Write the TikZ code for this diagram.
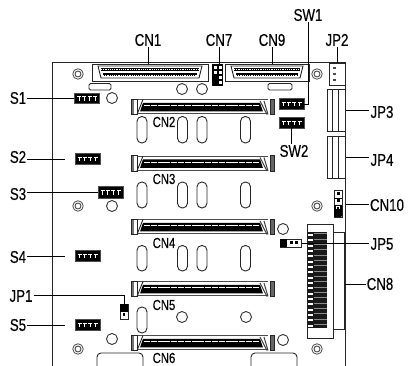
\documentclass[tikz,border=0pt]{standalone}
\usepackage{fontspec}
\setmainfont{Liberation Sans}[FakeStretch=0.78,FakeBold=0.35]
\tikzset{
  x=1pt,y=-1pt,
  ln/.style={line width=0.9pt,black!85},
  lbl/.style={font=\fontsize{17}{17}\selectfont,inner sep=1pt,text=black},
  ilbl/.style={font=\fontsize{14.5}{14.5}\selectfont,inner sep=0pt,text=black},
  wire/.style={line width=0.8pt,black},
  part/.style={draw=black!85,line width=0.9pt,fill=white},
  swbox/.style={draw=black!70,line width=.5pt,fill=black,minimum width=25pt,minimum height=10.5pt,inner sep=0pt},
}
% switch body with white T marks
\newcommand{\swmarks}[1]{%
  \foreach \i in {-8,-2.7,2.7,8}{
    \draw[white,line width=.7pt] ([shift={(\i-2,-1.8)}]#1.center) -- ([shift={(\i+2,-1.8)}]#1.center);
    \draw[white,line width=.7pt] ([shift={(\i,-1.8)}]#1.center) -- ([shift={(\i,2.5)}]#1.center);
  }}
% long connector: top y = #1, named #2
\newcommand{\longconn}[2]{%
  \node[inner sep=0,minimum width=143pt,minimum height=15.5pt,anchor=north west] (#2) at (131,#1) {};
  \begin{scope}[shift={(0,#1)}]
    \draw[black!70,line width=1.4pt] (137,0.8) -- (268,0.8);
    \draw[black!70,line width=1.4pt] (137,14.8) -- (268,14.8);
    \fill[black!55] (131,0) rectangle (134,15.5);
    \draw[ln] (131,0) rectangle (137,15.5);
    \fill[black!60] (270,0) rectangle (274,15.5);
    \draw[ln] (270,0) rectangle (274,15.5);
    \draw[ln] (137,15.5) -- (143,0.5);
    \fill[black] (143,3.8) -- (260,3.8) -- (263,12.5) -- (140,12.5) -- cycle;
    \draw[white,line width=.9pt,dash pattern=on 6pt off .8pt] (144,6.6) -- (259,6.6);
    \draw[black!75,line width=1pt] (260,2) -- (267,15.5);
    \draw[black!75,line width=1pt] (264,2) -- (268,15.5);
  \end{scope}}
% slot
\newcommand{\slotat}[3]{%
  \draw[ln,rounded corners=4.8pt] (#1,#2) rectangle (#1+10,#3);}
\newcommand{\hole}[3]{\node[circle,draw=black!80,line width=.9pt,minimum size=11pt,inner sep=0] (#3) at (#1,#2) {};}
\newcommand{\screw}[3]{\node[circle,draw=black!70,line width=.8pt,minimum size=10.5pt,inner sep=0] (#3) at (#1,#2) {};
  \draw[black!70,line width=.9pt] (#3.center) circle (3pt);}
% D-sub connector
\newcommand{\dsub}[3]{%
  \node[part,minimum width=#2pt,minimum height=17pt,inner sep=0,anchor=north west] (#3) at (#1,64) {};
  \begin{scope}[shift={(#1,64)}]
    \draw[ln] (6,2) -- (#2-6,2) -- (#2-9,14) -- (9,14) -- cycle;
    \fill[black] (9,4) rectangle (#2-9,7);
    \fill[black] (11,9.5) rectangle (#2-11,12.5);
    \draw[white,line width=.9pt,dash pattern=on 1.1pt off 1.1pt] (9,5.5) -- (#2-9,5.5);
    \draw[white,line width=.9pt,dash pattern=on 1.1pt off 1.1pt] (11,11) -- (#2-11,11);
  \end{scope}}
\begin{document}
\begin{tikzpicture}
\useasboundingbox (0,0) rectangle (408,366);
\fill[white] (0,0) rectangle (408,366);
% board
\draw[ln] (52,366) -- (52,62) -- (345,62) -- (345,366);
% D-subs
\dsub{92}{116}{cn1}
\dsub{225}{84}{cn9}
% rounded pads
\draw[ln,rounded corners=1.5pt] (89,83.5) rectangle (111,90);
\draw[ln,rounded corners=1.5pt] (268,83.5) rectangle (292,90);
% CN7
\node[inner sep=0,minimum width=11pt,minimum height=22pt,anchor=north west] (cn7) at (212,64) {};
\fill[black] (212,64) rectangle (223,86);
\foreach \yy in {66,71,76,81}{\fill[white] (213.5,\yy) rectangle +(3,3);\fill[white] (218.5,\yy) rectangle +(3,3);}
\fill[black] (212,76) rectangle (217.5,86);
% JP2
\node[part,inner sep=0,minimum width=16pt,minimum height=22pt,anchor=north west] (jp2) at (329,63) {};
\foreach \yy in {68,74,80}{\fill[black!70] (333,\yy-1) rectangle +(2.5,2.5);}
% holes
\screw{78}{74}{h1}\screw{317}{74}{h2}\screw{78}{206}{h3}\screw{317}{206}{h4}\screw{78}{349}{h5}\screw{317}{349}{h6}
\hole{182}{89}{c1}\hole{202}{89}{c2}\hole{112}{98}{c3}\hole{112}{206}{c4}\hole{283}{229}{c5}
\hole{182}{317}{c6}\hole{246}{317}{c7}\hole{112}{339}{c8}\hole{283}{340}{c9}
% long connectors
\longconn{99}{cn2}\longconn{155.5}{cn3}\longconn{219}{cn4}\longconn{281}{cn5}\longconn{335}{cn6}
% slots
\foreach \xx in {137,177.5,197,240.5}{
  \slotat{\xx}{116.5}{143}
  \slotat{\xx}{182}{208}
  \slotat{\xx}{245.5}{271}
}
\slotat{137}{307}{333}
% bottom cut-outs
\draw[ln,rounded corners=4pt] (97,367) -- (97,353) -- (143,353) -- (143,367);
\draw[ln,rounded corners=4pt] (251,367) -- (251,353) -- (297,353) -- (297,367);
% JP3, JP4
\node[part,inner sep=0,minimum width=18pt,minimum height=42pt,anchor=north west] (jp3) at (327,89) {};
\draw[ln] (332,89) -- (332,131) (338,89) -- (338,131);
\node[part,inner sep=0,minimum width=18pt,minimum height=42pt,anchor=north west] (jp4) at (327,136) {};
\draw[ln] (332,136) -- (332,178) (338,136) -- (338,178);
% CN10
\node[part,inner sep=0,minimum width=8pt,minimum height=27pt,anchor=north west] (cn10) at (334,190) {};
\foreach \yy in {193,200}{\fill[black] (336.5,\yy-.5) rectangle +(3,3);}
\draw[black,line width=.8pt] (334,198) -- (342,198) (334,205) -- (342,205);
\fill[black,rounded corners=1pt] (334,205) rectangle (342,217);
\fill[white] (336,206) rectangle (340,209.5);
\fill[black] (336.7,206.7) rectangle (339.3,209);
% CN8
\node[inner sep=0,minimum width=11pt,minimum height=97pt,anchor=north west,part] (cn8b) at (333,232) {};
\node[part,inner sep=0,minimum width=26pt,minimum height=114pt,anchor=north west] (cn8) at (307,224) {};
\fill[black!90] (308,232) rectangle (327,328);
\foreach \yy in {233,238.33,...,326}{
  \fill[white] (308,\yy+1) rectangle (312.5,\yy+3);
  \fill[black!45] (314,\yy+.5) rectangle (326.5,\yy+1.1);
}
% switches
\node[swbox] (s1) at (87,98.5) {};\swmarks{s1}
\node[swbox] (s2) at (87.5,159) {};\swmarks{s2}
\node[swbox,minimum height=11.5pt] (s3) at (110.5,192.5) {};\swmarks{s3}
\node[swbox] (s4) at (87.5,256) {};\swmarks{s4}
\node[swbox] (s5) at (87.5,325) {};\swmarks{s5}
\node[swbox] (sw1) at (291.5,104) {};\swmarks{sw1}
\node[swbox] (sw2) at (291.5,123) {};\swmarks{sw2}
% JP1
\node[draw=black!85,line width=.8pt,fill=white,inner sep=0,minimum width=8pt,minimum height=15pt,anchor=north west] (jp1) at (120,304) {};
\fill[black] (120,304) rectangle (128,312);
\fill[black] (122.7,313.5) rectangle +(2.6,2.6);
% JP5
\node[draw=black!85,line width=.8pt,fill=white,inner sep=0,minimum width=21pt,minimum height=8pt,anchor=north west] (jp5) at (280,239) {};
\fill[black] (280,239) rectangle (287,247);
\fill[black] (289.5,241.5) rectangle +(3,3);\fill[black] (295,241.5) rectangle +(3,3);
% labels
\node[lbl] (Lcn1) at (148,40) {CN1};
\node[lbl] (Lcn7) at (219,40) {CN7};
\node[lbl] (Lcn9) at (272,40) {CN9};
\node[lbl] (Lsw1) at (308,15) {SW1};
\node[lbl] (Ljp2) at (337,40) {JP2};
\node[lbl] (Ljp3) at (382,112) {JP3};
\node[lbl] (Ljp4) at (382,160) {JP4};
\node[lbl] (Lcn10) at (387,205) {CN10};
\node[lbl] (Ljp5) at (382,244) {JP5};
\node[lbl] (Lcn8) at (380,284) {CN8};
\node[lbl] (Lsw2) at (294,151) {SW2};
\node[lbl] (Ls1) at (18,98) {S1};
\node[lbl] (Ls2) at (18,157) {S2};
\node[lbl] (Ls3) at (18,194) {S3};
\node[lbl] (Ls4) at (18,257) {S4};
\node[lbl] (Ljp1) at (21,296) {JP1};
\node[lbl] (Ls5) at (18,325) {S5};
\node[ilbl] (Lcn2) at (164,122) {CN2};
\node[ilbl] (Lcn3) at (164,179) {CN3};
\node[ilbl] (Lcn4) at (164,243) {CN4};
\node[ilbl] (Lcn5) at (164,305) {CN5};
\node[ilbl] (Lcn6) at (164,358) {CN6};
% leaders
\draw[wire] (Lcn1.south) -- (Lcn1.south |- cn1.north);
\draw[wire] (Lcn7.south) -- (Lcn7.south |- cn7.north);
\draw[wire] (Lcn9.south) -- (Lcn9.south |- cn9.north);
\draw[wire] (Ljp2.south) -- (Ljp2.south |- jp2.north);
\draw[wire] (Lsw1.south) -- (Lsw1.south |- sw1.east) -- (sw1.east);
\draw[wire] (sw2.south) -- (sw2.south |- Lsw2.north);
\draw[wire] (jp3.east) -- (jp3.east -| Ljp3.west);
\draw[wire] (jp4.east) -- (jp4.east -| Ljp4.west);
\draw[wire] (cn10.east -| jp4.east) -- (cn10.east -| Lcn10.west);
\draw[wire] (jp5.east) -- (jp5.east -| Ljp5.west);
\draw[wire] (Lcn8.west |- 345,284) -- (345,284);
\draw[wire] (Ls1.east |- s1.west) -- (s1.west);
\draw[wire] (Ls2.east |- s2.west) -- ++(38,0);
\draw[wire] (Ls3.east |- s3.west) -- (s3.west);
\draw[wire] (Ls4.east |- s4.west) -- ++(38,0);
\draw[wire] (Ls5.east |- s5.west) -- ++(38,0);
\draw[wire] (Ljp1.east |- 0,295) -- (jp1.north |- 0,295) -- (jp1.north);
\end{tikzpicture}
\end{document}
